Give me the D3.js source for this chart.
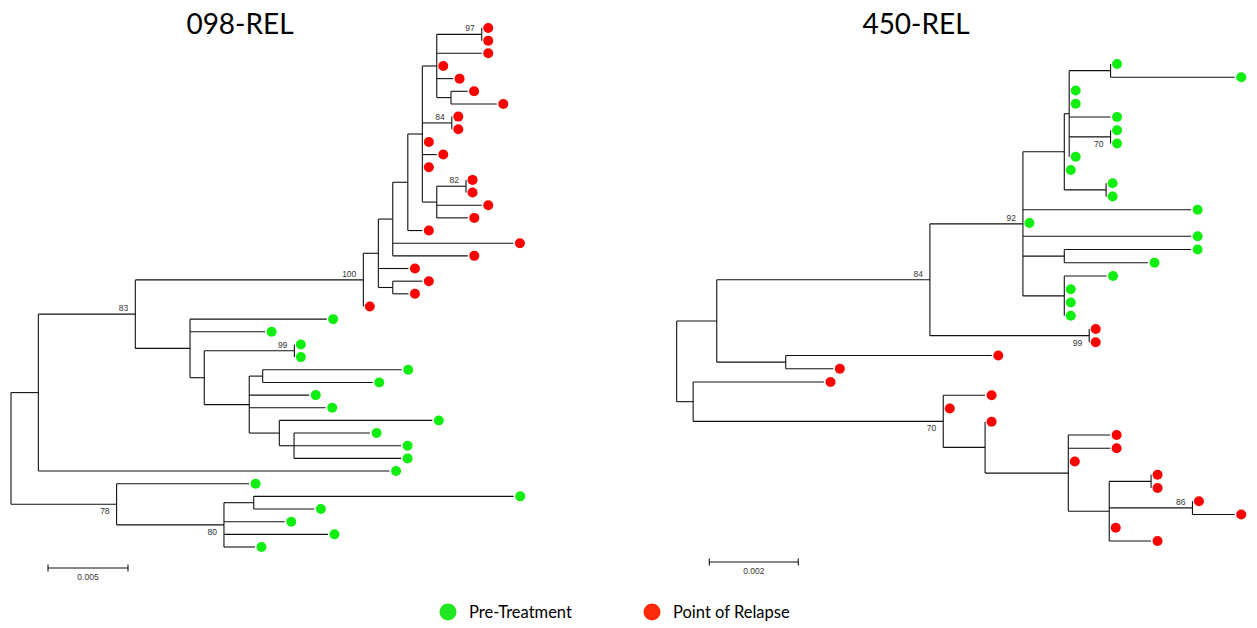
<!DOCTYPE html>
<html>
<head>
<meta charset="utf-8">
<script src="https://cdn.jsdelivr.net/npm/d3@7"></script>
<style>
  html, body { margin: 0; padding: 0; background: #fff; }
  svg { display: block; }
</style>
</head>
<body>
<svg id="chart" width="1257" height="628"></svg>
<script>
// Panel titles
const titles = ["098-REL", "450-REL"];

// Maximum-likelihood trees (Newick). Tips named P.. are pre-treatment
// sequences, tips named R.. are sequences at the point of relapse.
// Internal node labels are bootstrap support values.
const treeNewick = [
  "(((((((((((R01:0,R02:0)97:0.00281,R03:0.00281,R04:0,R05:0.00102," +
  "(R06:0.00104,R07:0.00286):0.00089):0.0009,(R08:0,R09:0)84:0.00184,R10:0," +
  "R11:0.0009,R12:0,((R13:0,R14:0)82:0.00183,R15:0.00281,R16:0.00194):0.0009)" +
  ":0.00091,R17:0.00091):0.00094,R18:0.00754,R19:0.00469):0.0009,R20:0.00188," +
  "(R21:0.00185,R22:0.00098):0.0009):0.00094,R23:0)100:0.01425," +
  "(P24:0.00854,P25:0.00469,((P26:0,P27:0)99:0.00563,((P28:0.00869,P29:0.00688)" +
  ":0.00084,P30:0.00375,P31:0.00478,(P32:0.00956,(P33:0.00475,P34:0.00669," +
  "P35:0.00669):0.00092):0.00188):0.00281):0.00089):0.00342)83:0.00606," +
  "P36:0.02195):0.00171,(P37:0.00828,((P38:0.01625,P39:0.00379):0.00186," +
  "P40:0.0038,P41:0.0065,P42:0.00194)80:0.00671)78:0.0066);",

  "(((((((P01:0,P02:0.00279):0.00093,P03:0,P04:0,P05:0.00093,(P06:0,P07:0)70:0.00093," +
  "P08:0):0.00011,P09:0,(P10:0,P11:0):0.00094):0.00093,P12:0.00378,P13:0," +
  "P14:0.00378,(P15:0.00285,P16:0.00188):0.00093,(P17:0.00095,P18:0,P19:0,P20:0)" +
  ":0.00093)92:0.00209,(R21:0,R22:0)99:0.00358)84:0.00479,(R23:0.00463,R24:0.00107)" +
  ":0.00155):0.0009,(R25:0.00294,(R26:0.00094,R27:0,(R28:0,(R29:0.00094,R30:0.00094," +
  "R31:0,((R32:0,R33:0):0.00094,(R34:0,R35:0.00095)86:0.00187,R36:0,R37:0.00094)" +
  ":0.00092):0.00187):0.00094)70:0.00562):0.00037);"
];

// Scale bar lengths (substitutions per site)
const scaleBarLengths = [0.005, 0.002];

// Legend
const groups = ["Pre-Treatment", "Point of Relapse"];
const groupPrefix = ["P", "R"];
const tipColors = ["#11ee11", "#ff0000"];
const legendColors = ["#22e622", "#ff2a0a"];

// ---- Layout for each panel ----
const panels = [
  { title: { x: 240, y: 34 },
    x0: 11, pxPerUnit: 16000,
    yTop: 28, yBottom: 547,
    bar: { x: 48, y: 568 } },
  { title: { x: 916, y: 34 },
    x0: 676.7, pxPerUnit: 44500,
    yTop: 64, yBottom: 541,
    bar: { x: 709.3, y: 562 } }
];

function parseNewick(str) {
  const s = str.replace(/\s+/g, "");
  let i = 0;
  function node() {
    const n = { children: [] };
    if (s[i] === "(") {
      i++;
      n.children.push(node());
      while (s[i] === ",") { i++; n.children.push(node()); }
      i++; // closing ')'
    }
    let name = "";
    while (i < s.length && !",():;".includes(s[i])) name += s[i++];
    n.name = name;
    n.length = 0;
    if (s[i] === ":") {
      i++;
      let len = "";
      while (i < s.length && !",();".includes(s[i])) len += s[i++];
      n.length = +len;
    }
    if (!n.children.length) delete n.children;
    return n;
  }
  return node();
}

const svg = d3.select("#chart");
const tipOffset = 6.5;
const tipRadius = 5;

panels.forEach((p, k) => {
  const g = svg.append("g");
  const root = d3.hierarchy(parseNewick(treeNewick[k]));

  // cumulative distance from the root
  root.eachBefore(d => { d.dist = d.parent ? d.parent.dist + d.data.length : 0; });

  const leaves = root.leaves();
  const x = d3.scaleLinear().domain([0, 1]).range([p.x0, p.x0 + p.pxPerUnit]);
  const y = d3.scaleLinear().domain([0, leaves.length - 1]).range([p.yTop, p.yBottom]);

  leaves.forEach((d, i) => { d.y = y(i); });
  root.eachAfter(d => {
    if (d.children) d.y = (d.children[0].y + d.children[d.children.length - 1].y) / 2;
  });

  // title
  g.append("text")
    .attr("x", p.title.x).attr("y", p.title.y)
    .attr("text-anchor", "middle")
    .attr("font-family", "Lato, 'Open Sans', sans-serif")
    .attr("font-size", 28)
    .attr("fill", "#000")
    .text(titles[k]);

  const links = g.append("g")
    .attr("stroke", "#111")
    .attr("stroke-width", 1.1)
    .attr("fill", "none");

  // horizontal branches
  links.selectAll("line.h")
    .data(root.descendants().filter(d => d.parent && d.data.length > 0))
    .join("line")
    .attr("class", "h")
    .attr("x1", d => x(d.parent.dist))
    .attr("x2", d => x(d.dist))
    .attr("y1", d => d.y)
    .attr("y2", d => d.y);

  // vertical connectors
  links.selectAll("line.v")
    .data(root.descendants().filter(d => d.children))
    .join("line")
    .attr("class", "v")
    .attr("x1", d => x(d.dist))
    .attr("x2", d => x(d.dist))
    .attr("y1", d => d.children[0].y)
    .attr("y2", d => d.children[d.children.length - 1].y);

  // bootstrap support values
  g.selectAll("text.support")
    .data(root.descendants().filter(d => d.children && d.data.name))
    .join("text")
    .attr("class", "support")
    .attr("x", d => x(d.dist) - 7)
    .attr("y", d => (d.parent && d.y > d.parent.y) ? d.y + 10 : d.y - 3)
    .attr("text-anchor", "end")
    .attr("font-family", "'Liberation Sans', Arial, sans-serif")
    .attr("font-size", 8.5)
    .attr("fill", "#333")
    .text(d => d.data.name);

  // tips
  g.selectAll("circle.tip")
    .data(leaves)
    .join("circle")
    .attr("class", "tip")
    .attr("cx", d => x(d.dist) + tipOffset)
    .attr("cy", d => d.y)
    .attr("r", tipRadius)
    .attr("fill", d => tipColors[groupPrefix.indexOf(d.data.name[0])]);

  // scale bar
  const len = x(scaleBarLengths[k]) - x(0);
  const bar = g.append("g")
    .attr("transform", `translate(${p.bar.x},${p.bar.y})`)
    .attr("stroke", "#111")
    .attr("stroke-width", 1.1);
  bar.append("line").attr("x1", 0).attr("x2", len).attr("y1", 0).attr("y2", 0);
  bar.append("line").attr("x1", 0).attr("x2", 0).attr("y1", -3.5).attr("y2", 3.5);
  bar.append("line").attr("x1", len).attr("x2", len).attr("y1", -3.5).attr("y2", 3.5);
  g.append("text")
    .attr("x", p.bar.x + len / 2)
    .attr("y", p.bar.y + 12)
    .attr("text-anchor", "middle")
    .attr("font-family", "'Liberation Sans', Arial, sans-serif")
    .attr("font-size", 8.5)
    .attr("fill", "#333")
    .text(scaleBarLengths[k]);
});

// legend
const legendX = [448, 652];
const legend = svg.append("g");
groups.forEach((name, i) => {
  legend.append("circle")
    .attr("cx", legendX[i]).attr("cy", 612).attr("r", 8.5)
    .attr("fill", legendColors[i]);
  legend.append("text")
    .attr("x", legendX[i] + 21).attr("y", 618)
    .attr("font-family", "Lato, 'Open Sans', sans-serif")
    .attr("font-size", 16.5)
    .attr("fill", "#000")
    .text(name);
});
</script>
</body>
</html>
